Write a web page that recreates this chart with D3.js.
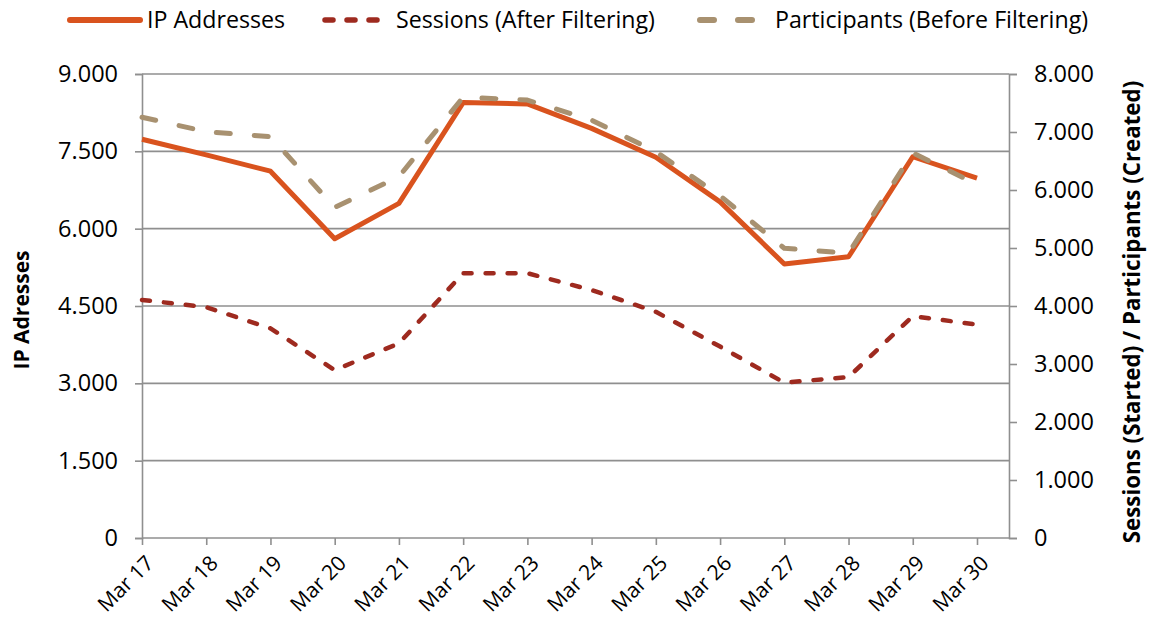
<!DOCTYPE html>
<html>
<head>
<meta charset="utf-8">
<script src="https://cdn.jsdelivr.net/npm/d3@7/dist/d3.min.js"></script>
<style>
  html, body { margin: 0; padding: 0; background: #fff; }
  svg { display: block; font-family: "Open Sans", "DejaVu Sans", sans-serif; }
</style>
</head>
<body>
<svg id="chart" width="1151" height="630"></svg>
<script>
// Daily figures, 17–30 March
const days = ["Mar 17", "Mar 18", "Mar 19", "Mar 20", "Mar 21", "Mar 22", "Mar 23",
              "Mar 24", "Mar 25", "Mar 26", "Mar 27", "Mar 28", "Mar 29", "Mar 30"];
const ipAddresses  = [7735, 7430, 7115, 5805, 6490, 8445, 8420, 7945, 7385, 6520, 5315, 5455, 7395, 6980];
const sessions     = [4105, 3980, 3615, 2895, 3355, 4565, 4565, 4275, 3900, 3300, 2678, 2775, 3825, 3680];
const participants = [7255, 7005, 6920, 5700, 6230, 7600, 7550, 7205, 6660, 5900, 4995, 4910, 6640, 6095];

const leftTicks  = [0, 1500, 3000, 4500, 6000, 7500, 9000];
const rightTicks = [0, 1000, 2000, 3000, 4000, 5000, 6000, 7000, 8000];

const seriesList = [
  { name: "IP Addresses",                 values: ipAddresses,  axis: "left",  color: "#d9531e", width: 5,   dash: null,    cap: "butt"  },
  { name: "Sessions (After Filtering)",   values: sessions,     axis: "right", color: "#9e2a1f", width: 4.5, dash: "8,14",  cap: "round" },
  { name: "Participants (Before Filtering)", values: participants, axis: "right", color: "#a89170", width: 5, dash: "14,24", cap: "round" }
];

const fontFamily = '"Open Sans", "DejaVu Sans", sans-serif';
const fmt = v => d3.format(",")(v).replace(/,/g, ".");

const svg = d3.select("#chart");
const plot = { left: 142, right: 1009, top: 74, bottom: 538 };

const x = d3.scalePoint().domain(days).range([plot.left, 977]);
const yLeft  = d3.scaleLinear().domain([0, 9000]).range([plot.bottom, plot.top]);
const yRight = d3.scaleLinear().domain([0, 8000]).range([plot.bottom, plot.top]);

const axisColor = "#8f8f8f";

// horizontal gridlines at the left-axis ticks
svg.append("g")
  .selectAll("line")
  .data(leftTicks.filter(d => d > 0))
  .join("line")
  .attr("x1", plot.left).attr("x2", plot.right)
  .attr("y1", d => yLeft(d)).attr("y2", d => yLeft(d))
  .attr("stroke", axisColor).attr("stroke-width", 1.6);

// left axis
const gLeft = svg.append("g")
  .attr("transform", `translate(${plot.left},0)`)
  .call(d3.axisLeft(yLeft).tickValues(leftTicks).tickFormat(fmt).tickSize(7).tickPadding(17));

// right axis
const gRight = svg.append("g")
  .attr("transform", `translate(${plot.right},0)`)
  .call(d3.axisRight(yRight).tickValues(rightTicks).tickFormat(fmt).tickSize(8).tickPadding(17));

// bottom axis
svg.append("line")
  .attr("x1", plot.left).attr("x2", plot.right)
  .attr("y1", plot.bottom).attr("y2", plot.bottom)
  .attr("stroke", axisColor).attr("stroke-width", 1.6);

const gBottom = svg.append("g")
  .attr("transform", `translate(0,${plot.bottom})`)
  .call(d3.axisBottom(x).tickSize(7).tickSizeOuter(0));
gBottom.select(".domain").remove();
gBottom.selectAll("text")
  .attr("font-size", 21)
  .attr("fill", "#000")
  .attr("text-anchor", "end")
  .attr("transform", "translate(2,16) rotate(-45)")
  .attr("dx", "0")
  .attr("dy", "0.7em")
  .attr("x", 0).attr("y", 0);

[gLeft, gRight, gBottom].forEach(g => {
  g.attr("font-family", fontFamily);
  g.selectAll(".domain").attr("stroke", axisColor).attr("stroke-width", 1.6);
  g.selectAll(".tick line").attr("stroke", axisColor).attr("stroke-width", 1.6);
});
[gLeft, gRight].forEach(g => {
  g.selectAll(".tick text").attr("font-size", 23.5).attr("fill", "#000");
});

// axis titles
svg.append("text")
  .attr("transform", `translate(29,${(plot.top + plot.bottom) / 2 + 4}) rotate(-90)`)
  .attr("text-anchor", "middle")
  .attr("font-size", 21).attr("font-weight", "bold").attr("fill", "#000")
  .text("IP Adresses");

svg.append("text")
  .attr("transform", `translate(1140,${(plot.top + plot.bottom) / 2 + 6}) rotate(-90)`)
  .attr("text-anchor", "middle")
  .attr("font-size", 22.3).attr("font-weight", "bold").attr("fill", "#000")
  .text("Sessions (Started) / Participants (Created)");

// series lines
seriesList.forEach(s => {
  const yScale = s.axis === "left" ? yLeft : yRight;
  const line = d3.line()
    .x((d, i) => x(days[i]))
    .y(d => yScale(d));
  svg.append("path")
    .datum(s.values)
    .attr("d", line)
    .attr("fill", "none")
    .attr("stroke", s.color)
    .attr("stroke-width", s.width)
    .attr("stroke-linejoin", "round")
    .attr("stroke-linecap", s.cap)
    .attr("stroke-dasharray", s.dash);
});

// legend
const legendItems = [
  { x: 70,  len: 70, tx: 147 },
  { x: 325, len: 58, tx: 396 },
  { x: 700, len: 60, tx: 775 }
];
seriesList.forEach((s, i) => {
  const g = svg.append("g").attr("transform", `translate(${legendItems[i].x},20)`);
  g.append("line")
    .attr("x1", 0).attr("x2", legendItems[i].len)
    .attr("y1", 0).attr("y2", 0)
    .attr("stroke", s.color)
    .attr("stroke-width", s.width + 1)
    .attr("stroke-linecap", "round")
    .attr("stroke-dasharray", s.dash);
  g.append("text")
    .attr("x", legendItems[i].tx - legendItems[i].x)
    .attr("y", 8)
    .attr("font-size", 23.2)
    .attr("fill", "#000")
    .text(s.name);
});
</script>
</body>
</html>
